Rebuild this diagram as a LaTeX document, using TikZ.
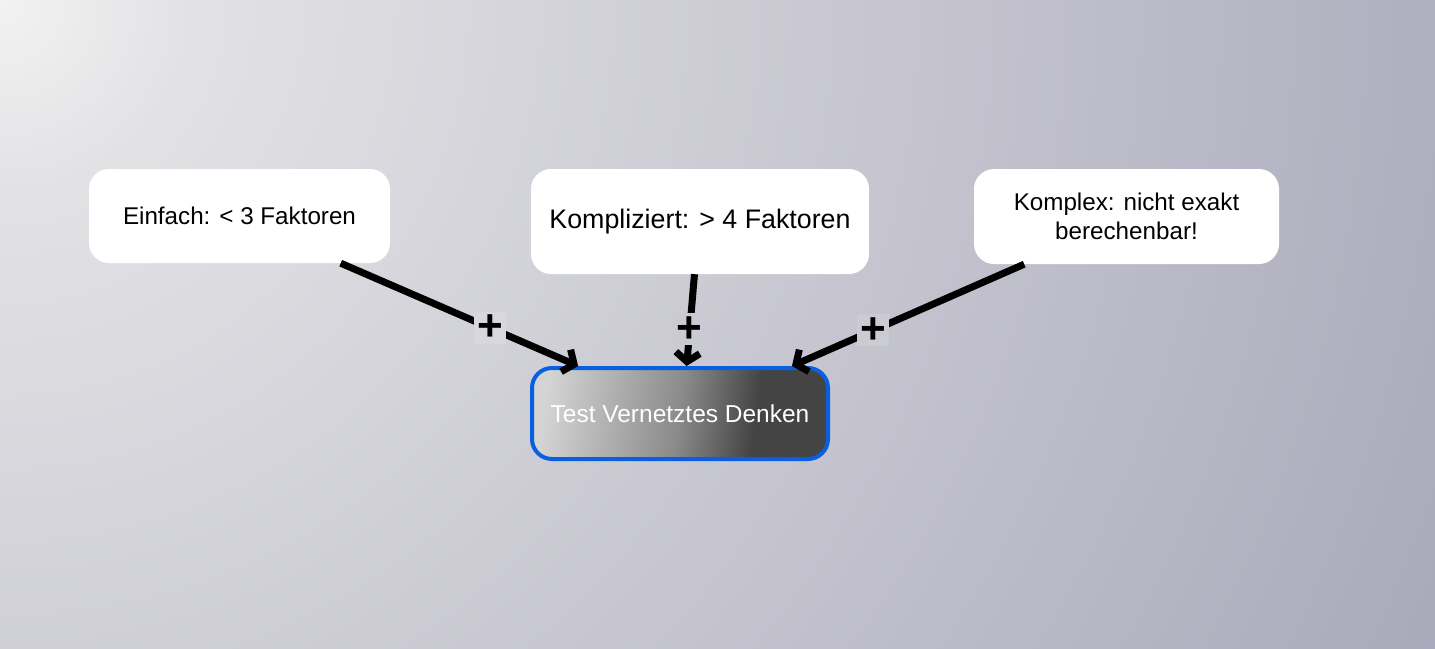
\documentclass[tikz,border=0pt]{standalone}
\usepackage{fontspec}
\setmainfont{Liberation Sans}
\usetikzlibrary{arrows.meta}
\definecolor{bgzero}{HTML}{F2F2F2}
\definecolor{bgone}{HTML}{E2E2E5}
\definecolor{bgtwo}{HTML}{A9A8BA}
\definecolor{tlight}{HTML}{D4D4D4}
\definecolor{tmid}{HTML}{8A8A8A}
\definecolor{tdark}{HTML}{444444}
\definecolor{tborder}{HTML}{0A5EE0}
\definecolor{plusL}{HTML}{D7D7DD}
\definecolor{plusM}{HTML}{CACAD2}
\definecolor{plusR}{HTML}{CBCBD4}
\pgfdeclareradialshading{bgrad}{\pgfpoint{0bp}{0bp}}{color(0bp)=(bgzero); color(3bp)=(bgone); color(25bp)=(bgtwo); color(50bp)=(bgtwo)}
\pgfdeclarehorizontalshading{testsh}{100bp}{color(0bp)=(tlight); color(25bp)=(tlight); color(50bp)=(tmid); color(64bp)=(tdark); color(100bp)=(tdark)}
\tikzset{
  factor/.style={draw=none, fill=white, rounded corners=20pt, inner sep=0pt,
    font=\fontsize{24.2}{29}\selectfont, text=black},
  testbox/.style={draw=tborder, line width=4pt, rounded corners=20pt, shading=testsh,
    shading angle=-8, minimum width=296pt, minimum height=91pt, inner sep=0pt,
    text=white, font=\fontsize{24.5}{29}\selectfont},
  link/.style={line width=7pt, black, -{Straight Barb[length=9pt,width=24pt]}},
  plusbox/.style={minimum size=32pt, inner sep=0pt, font=\fontsize{44}{44}\bfseries\selectfont}
}
\begin{document}
\begin{tikzpicture}[x=1pt,y=-1pt]
\begin{scope}
\clip (0,0) rectangle (1435,648);
\shade[shading=bgrad] (0,0) circle (1600);
\end{scope}
\useasboundingbox (0,0) rectangle (1435,648);
\node[factor, minimum width=301pt, minimum height=94pt] (ein) at (239.5,216) {Einfach: < 3 Faktoren};
\node[factor, minimum width=338pt, minimum height=105pt, font=\fontsize{26.8}{31}\selectfont] (kom) at (700,221.5) {Kompliziert: > 4 Faktoren};
\node[factor, minimum width=305pt, minimum height=95pt, align=center] (kx) at (1126.5,216.5) {Komplex: nicht exakt\\berechenbar!};
\node[testbox] (t) at (680,413.5) {Test Vernetztes Denken};
\draw[link] (ein.-25.5) -- node[pos=0.63, plusbox, fill=plusL] (p1) {+} (t.155);
\draw[link] (kom.-96.4) -- node[pos=0.6, plusbox, fill=plusM] (p2) {+} (t.82.8);
\draw[link] (kx.205.3) -- node[pos=0.65, plusbox, fill=plusR] (p3) {+} (t.23.7);
\end{tikzpicture}
\end{document}
